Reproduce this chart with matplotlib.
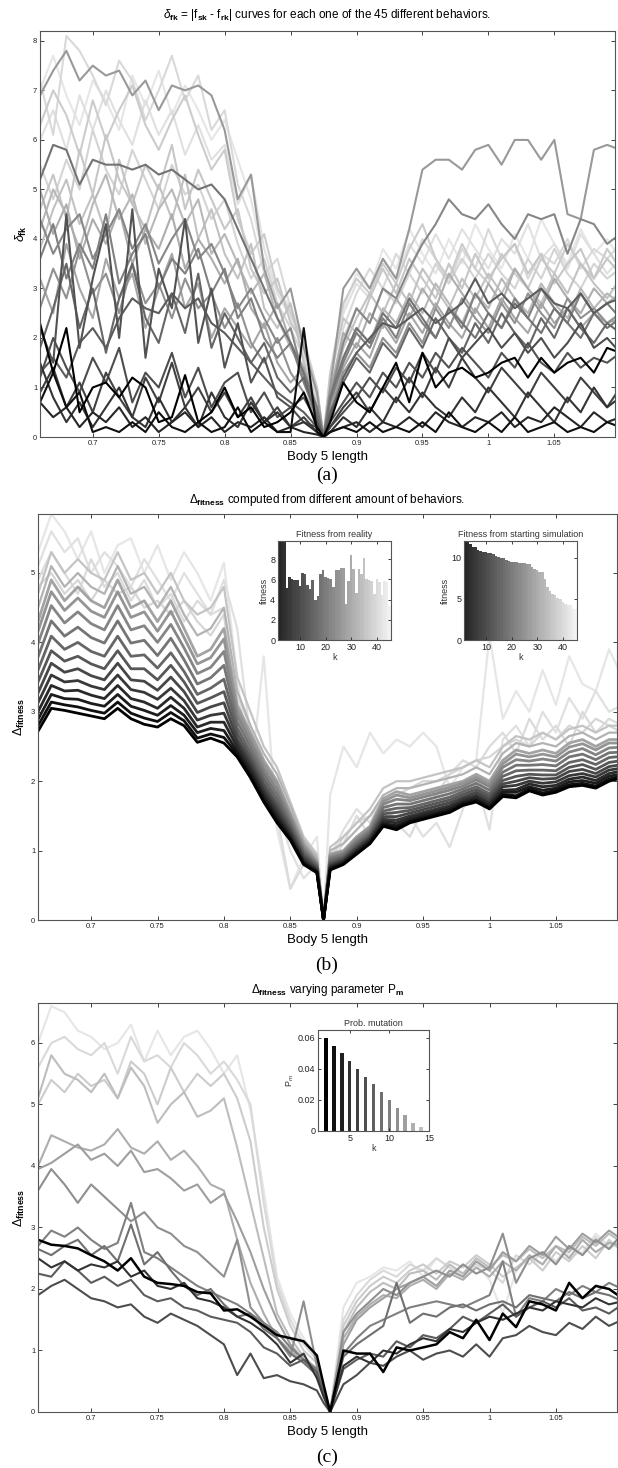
import matplotlib
matplotlib.use("Agg")
import matplotlib.pyplot as plt
import numpy as np

plt.rcParams['font.family'] = ['Liberation Sans', 'DejaVu Sans']
plt.rcParams['mathtext.fontset'] = 'custom'
plt.rcParams['mathtext.rm'] = 'Liberation Sans'
plt.rcParams['mathtext.it'] = 'Liberation Sans:italic'
plt.rcParams['mathtext.bf'] = 'Liberation Sans:bold'

# body 5 length samples (shared by the three panels)
body_len = [0.66, 0.67, 0.68, 0.69, 0.70, 0.71, 0.72, 0.73, 0.74, 0.75,
            0.76, 0.77, 0.78, 0.79, 0.80, 0.81, 0.82, 0.83, 0.84, 0.85,
            0.86, 0.87, 0.875, 0.88, 0.89, 0.90, 0.91, 0.92, 0.93, 0.94,
            0.95, 0.96, 0.97, 0.98, 0.99, 1.00, 1.01, 1.02, 1.03, 1.04,
            1.05, 1.06, 1.07, 1.08, 1.09, 1.10]
body_ticks = [0.7, 0.75, 0.8, 0.85, 0.9, 0.95, 1.0, 1.05]
body_tick_lbl = ['0.7', '0.75', '0.8', '0.85', '0.9', '0.95', '1', '1.05']

# ---- (a) delta_fk curves, light ones first ----
da_l1 = [6.0,6.6,5.8,6.9,6.2,7.0,6.4,5.9,6.8,6.1,6.6,5.7,6.3,5.6,5.9,4.7,5.3,3.8,2.9,2.4,1.7,0.8,0.0,1.1,2.5,3.1,2.8,3.6,3.2,3.9,3.5,4.1,3.6,4.2,3.8,3.4,4.0,3.7,4.3,3.6,3.9,3.4,4.1,3.7,3.3,3.6]
da_l2 = [7.2,6.1,8.1,7.8,7.3,6.7,7.6,7.2,6.4,7.0,7.7,6.8,7.3,6.2,6.6,5.1,4.4,3.3,3.6,2.6,2.0,1.0,0.0,0.8,2.2,2.9,3.4,3.0,3.7,3.3,4.0,3.6,3.1,3.8,3.4,4.2,3.6,3.9,3.2,3.7,3.5,4.0,3.4,3.8,3.6,3.9]
da_l3 = [5.5,4.8,5.6,5.0,6.2,5.4,4.9,5.8,5.2,4.6,5.5,4.9,5.1,4.4,4.8,3.9,3.2,3.6,2.7,2.2,1.6,0.7,0.0,0.9,2.0,2.6,2.3,3.0,2.7,3.3,2.9,3.5,3.1,3.6,3.2,3.7,3.3,3.0,3.6,3.2,3.8,3.3,3.0,3.5,3.2,3.4]
da_l4 = [4.6,5.3,4.4,5.8,4.9,6.1,5.2,4.7,5.5,5.0,5.9,4.6,5.4,4.8,4.2,4.6,3.4,2.9,3.2,2.3,1.9,0.9,0.0,1.2,2.4,2.1,2.8,3.4,2.9,3.6,3.2,2.8,3.5,3.0,3.7,3.2,3.6,3.9,3.3,3.7,3.1,3.5,3.8,3.2,3.6,3.3]
da_l5 = [3.8,4.6,5.2,4.3,4.9,4.1,5.6,4.7,4.2,5.1,4.4,5.3,4.0,4.6,3.7,3.2,3.9,2.6,2.2,2.7,1.5,0.6,0.0,0.7,1.8,2.4,2.9,2.5,3.1,2.7,3.4,3.0,2.6,3.2,2.8,3.3,2.9,3.4,3.0,2.7,3.3,2.9,3.5,3.1,2.8,3.2]
da_l6 = [6.3,7.0,6.5,5.7,6.8,6.0,6.6,7.1,6.3,5.8,6.4,6.9,6.1,5.4,5.8,4.4,3.7,4.1,3.0,2.5,1.9,1.0,0.0,1.3,2.7,3.2,2.9,3.5,3.1,3.8,4.3,3.6,3.2,3.9,3.4,3.1,3.7,3.3,3.0,3.6,3.3,3.9,3.5,3.2,3.8,3.4]
da_l7 = [4.2,5.0,4.5,3.8,4.7,5.3,4.4,4.9,3.9,4.6,5.0,4.3,4.8,3.7,4.1,3.5,2.9,3.3,2.4,1.8,1.3,0.5,0.0,0.8,1.6,2.2,1.9,2.6,2.3,2.9,2.5,3.1,2.7,2.3,2.9,2.6,3.2,2.8,2.5,3.1,2.7,2.4,3.0,2.6,2.9,2.7]
da_l8 = [7.0,7.7,6.9,6.3,7.2,6.8,6.2,7.3,6.7,7.4,6.5,7.1,6.6,6.0,6.4,5.6,4.8,3.5,3.0,2.6,1.9,0.9,0.0,1.0,2.6,3.3,3.0,3.8,3.4,4.2,3.7,3.3,4.0,3.5,4.3,3.8,3.4,4.1,3.6,4.4,3.9,3.5,4.2,3.7,4.0,3.6]
da_m1 = [5.0,4.1,4.7,3.6,4.4,3.9,4.6,3.5,4.2,3.8,4.5,3.4,4.0,3.6,3.1,3.6,2.6,2.2,2.7,1.9,1.4,0.6,0.0,0.9,2.1,1.8,2.5,2.2,2.8,2.4,3.0,2.6,3.3,2.9,2.5,3.1,2.7,3.4,3.0,2.6,3.2,2.8,2.5,3.0,2.7,2.9]
da_m2 = [3.2,2.5,3.9,3.0,2.4,3.6,2.8,3.3,2.2,3.0,3.7,2.6,3.1,2.0,2.6,2.2,1.8,2.3,1.5,1.1,1.4,0.5,0.0,0.6,1.4,1.9,1.6,2.3,1.9,2.5,2.1,2.7,2.3,2.0,2.6,2.2,2.8,2.4,2.1,2.7,2.3,2.6,2.2,2.5,2.3,2.4]
da_m3 = [6.9,7.4,7.8,7.2,7.5,7.3,7.4,6.9,7.2,6.6,7.1,7.0,7.1,6.9,6.2,4.8,5.3,3.4,2.6,3.0,1.8,0.9,0.0,1.0,3.0,3.4,3.0,3.6,3.2,4.2,5.4,5.6,5.6,5.4,5.8,5.9,5.5,6.0,6.0,5.6,6.0,4.5,4.4,5.8,5.9,5.8]
da_m4 = [2.6,3.4,2.8,3.8,2.9,3.3,2.5,3.5,2.7,3.1,2.4,3.2,2.6,2.9,2.2,2.7,1.9,1.5,2.0,1.3,0.9,0.4,0.0,0.5,1.3,1.7,1.4,2.0,1.7,2.3,1.9,2.6,2.2,2.8,2.4,2.1,2.7,2.3,2.9,2.5,2.2,2.8,2.4,2.6,2.3,2.5]
da_m5 = [4.4,3.7,4.2,4.5,3.6,4.1,4.6,3.8,4.3,3.5,4.0,4.4,3.6,3.9,3.3,2.6,3.0,2.4,1.9,2.2,1.2,0.5,0.0,0.8,1.9,2.6,2.3,3.0,2.8,3.4,3.9,4.3,4.8,4.5,4.4,4.7,4.3,4.0,4.5,4.4,4.5,3.7,4.4,4.3,3.9,4.1]
da_m6 = [3.6,4.3,3.2,3.9,3.4,4.5,3.1,3.7,4.1,3.0,3.6,3.3,3.8,2.9,3.4,2.4,2.8,2.0,1.6,1.9,1.1,0.4,0.0,0.7,1.5,2.1,1.8,2.4,2.0,2.7,2.3,2.0,2.6,2.2,2.9,2.5,2.2,2.8,2.4,3.0,2.6,2.3,2.9,2.5,2.7,2.4]
da_d1 = [5.2,5.9,5.8,5.1,5.6,5.5,5.5,5.4,5.5,5.3,5.4,5.2,5.0,5.1,4.8,4.2,3.6,3.0,2.4,1.9,1.3,0.6,0.0,0.8,1.6,2.2,1.9,2.5,2.2,2.8,2.4,2.0,2.6,2.3,2.0,2.5,2.2,2.7,2.4,2.1,2.6,2.3,2.0,2.5,2.2,2.4]
da_d2 = [1.8,2.6,3.5,2.2,3.0,1.7,2.8,3.5,2.4,1.9,2.9,2.1,3.3,1.8,2.5,2.0,1.5,1.9,1.2,0.9,1.2,0.4,0.0,0.5,1.1,1.6,1.3,1.9,1.6,2.2,1.8,2.4,2.0,1.7,2.3,1.9,2.5,2.1,1.8,2.4,2.0,2.6,2.2,1.9,2.3,2.1]
da_d3 = [1.3,1.6,1.2,1.9,2.2,1.8,2.4,2.8,2.6,2.5,2.9,2.6,2.8,2.3,2.1,1.8,1.5,1.2,0.9,0.7,0.5,0.2,0.0,0.4,1.2,1.7,2.0,2.3,2.2,2.4,2.6,2.3,2.5,2.7,3.2,2.7,2.9,2.6,2.8,3.0,2.7,2.6,2.9,2.5,2.7,2.8]
da_d4 = [2.2,1.5,4.5,1.8,3.2,4.3,2.0,4.6,1.6,3.4,2.6,4.4,1.9,3.0,1.4,2.3,1.1,1.6,0.8,0.6,0.8,0.3,0.0,0.3,0.7,1.1,0.8,1.3,1.0,1.5,1.2,1.7,1.4,1.8,1.5,1.2,1.7,1.4,1.9,1.5,1.3,1.7,1.4,1.6,1.5,1.7]
da_d8 = [1.2,2.0,1.4,0.9,1.6,1.1,1.8,0.7,1.3,1.0,1.7,0.8,1.4,0.6,1.1,1.3,0.5,0.9,0.4,0.6,0.3,0.2,0.0,0.2,0.5,0.8,1.2,0.9,1.4,1.1,1.7,1.3,2.0,1.6,1.9,2.2,1.8,2.1,1.7,2.0,1.6,1.9,2.3,1.8,2.0,1.7]
da_d5 = [0.9,1.4,0.6,1.1,0.5,1.3,0.8,0.4,1.2,0.7,1.5,0.6,1.0,0.5,0.9,0.4,0.8,0.3,0.6,0.2,0.4,0.1,0.0,0.2,0.6,0.9,0.5,1.0,0.7,1.2,0.8,1.4,1.0,1.6,1.2,0.9,1.4,1.1,0.8,1.3,1.0,0.7,1.2,0.9,0.6,1.0]
da_d7 = [1.5,0.8,0.3,0.7,0.2,0.6,1.0,0.4,0.2,0.8,0.3,0.6,0.2,0.9,0.4,0.2,0.7,0.3,0.5,0.2,0.3,0.1,0.0,0.1,0.4,0.2,0.6,0.3,0.8,0.5,0.9,0.6,0.4,0.8,0.5,1.0,0.7,0.4,0.9,0.6,0.3,0.8,0.5,1.0,0.6,0.8]
da_d6 = [0.7,0.4,0.6,0.2,0.5,0.3,0.6,0.2,0.4,0.1,0.3,0.5,0.2,0.4,0.1,0.3,0.2,0.4,0.1,0.2,0.1,0.05,0.0,0.1,0.2,0.3,0.1,0.3,0.2,0.4,0.2,0.5,0.3,0.2,0.4,0.3,0.5,0.2,0.4,0.3,0.6,0.4,0.2,0.5,0.3,0.4]
da_k2 = [0.7,1.3,0.6,0.9,0.1,0.2,0.1,0.3,0.1,0.5,0.2,0.1,0.3,0.1,0.2,0.6,0.1,0.3,0.1,0.1,2.2,0.1,0.0,0.1,0.2,0.1,0.3,0.1,0.2,0.1,0.3,0.1,0.5,0.2,0.1,0.3,0.1,0.4,0.1,0.2,0.3,0.1,0.2,0.1,0.3,0.2]
da_k1 = [2.3,1.3,2.2,0.5,1.0,1.1,0.8,1.2,1.0,0.3,0.4,1.25,0.3,0.5,1.0,0.4,0.6,0.2,0.3,0.5,0.9,0.2,0.0,0.3,1.1,0.7,0.5,1.0,1.5,0.7,1.7,1.0,1.3,1.4,1.2,1.3,1.5,1.6,1.2,1.6,1.3,1.5,1.6,1.3,1.8,1.7]

# ---- (b) Delta_fitness for growing number of behaviours ----
db_b = [2.72,3.05,3.02,2.98,2.94,2.90,3.05,2.90,2.82,2.78,2.90,2.80,2.56,2.62,2.55,2.35,2.05,1.70,1.40,1.15,0.80,0.68,0.00,0.72,0.80,0.95,1.10,1.35,1.30,1.40,1.45,1.50,1.55,1.65,1.70,1.60,1.78,1.76,1.86,1.80,1.84,1.92,1.94,1.90,2.00,2.05]
db_1 = [2.80,3.14,3.10,3.07,3.02,2.98,3.14,2.98,2.91,2.86,2.99,2.87,2.62,2.68,2.63,2.39,2.08,1.73,1.43,1.17,0.82,0.69,0.00,0.73,0.81,0.96,1.11,1.37,1.33,1.42,1.47,1.52,1.57,1.67,1.72,1.62,1.81,1.79,1.89,1.83,1.87,1.95,1.97,1.93,2.03,2.08]
db_2 = [2.89,3.25,3.19,3.18,3.12,3.08,3.25,3.08,3.02,2.95,3.09,2.95,2.70,2.76,2.73,2.43,2.12,1.77,1.47,1.19,0.83,0.70,0.00,0.75,0.82,0.98,1.13,1.39,1.36,1.44,1.49,1.54,1.59,1.69,1.74,1.64,1.84,1.84,1.92,1.87,1.90,1.99,2.01,1.97,2.07,2.11]
db_3 = [3.00,3.38,3.30,3.31,3.24,3.19,3.38,3.19,3.14,3.05,3.21,3.05,2.78,2.85,2.85,2.49,2.17,1.81,1.51,1.22,0.85,0.71,0.00,0.76,0.84,1.00,1.15,1.42,1.40,1.47,1.52,1.57,1.62,1.71,1.77,1.67,1.87,1.88,1.96,1.92,1.94,2.03,2.06,2.01,2.11,2.15]
db_4 = [3.13,3.53,3.43,3.45,3.37,3.32,3.53,3.32,3.28,3.18,3.34,3.16,2.88,2.95,2.98,2.55,2.22,1.86,1.56,1.25,0.88,0.72,0.00,0.78,0.85,1.02,1.17,1.45,1.44,1.50,1.55,1.60,1.65,1.74,1.80,1.70,1.92,1.94,2.00,1.97,1.99,2.08,2.11,2.06,2.16,2.19]
db_5 = [3.27,3.70,3.57,3.62,3.52,3.46,3.70,3.46,3.44,3.31,3.50,3.29,2.99,3.07,3.13,2.61,2.28,1.91,1.61,1.29,0.91,0.74,0.00,0.80,0.87,1.04,1.19,1.49,1.49,1.54,1.59,1.64,1.69,1.77,1.84,1.74,1.96,2.00,2.05,2.03,2.04,2.14,2.17,2.11,2.21,2.24]
db_6 = [3.43,3.88,3.73,3.80,3.69,3.62,3.88,3.62,3.62,3.46,3.67,3.43,3.12,3.20,3.29,2.69,2.34,1.97,1.67,1.33,0.94,0.76,0.00,0.82,0.89,1.06,1.21,1.53,1.55,1.58,1.63,1.68,1.73,1.81,1.88,1.78,2.01,2.07,2.10,2.09,2.09,2.20,2.24,2.17,2.27,2.30]
db_7 = [3.60,4.09,3.90,4.00,3.87,3.80,4.09,3.80,3.82,3.63,3.85,3.58,3.25,3.34,3.47,2.77,2.41,2.04,1.74,1.37,0.97,0.78,0.00,0.85,0.91,1.09,1.24,1.57,1.61,1.62,1.67,1.72,1.77,1.85,1.92,1.82,2.07,2.15,2.16,2.16,2.15,2.27,2.31,2.24,2.34,2.36]
db_8 = [3.79,4.31,4.09,4.22,4.07,3.99,4.31,3.99,4.03,3.81,4.06,3.75,3.40,3.49,3.67,2.86,2.49,2.11,1.81,1.42,1.00,0.80,0.00,0.88,0.94,1.12,1.27,1.62,1.67,1.67,1.72,1.77,1.82,1.89,1.97,1.87,2.13,2.23,2.23,2.24,2.22,2.35,2.39,2.31,2.41,2.42]
db_9 = [3.98,4.53,4.28,4.44,4.27,4.18,4.53,4.18,4.24,4.00,4.26,3.92,3.55,3.64,3.87,2.95,2.57,2.18,1.88,1.47,1.04,0.82,0.00,0.90,0.96,1.15,1.30,1.67,1.74,1.72,1.77,1.82,1.87,1.93,2.02,1.92,2.20,2.31,2.29,2.32,2.29,2.42,2.47,2.38,2.48,2.49]
db_10 = [4.16,4.73,4.46,4.64,4.45,4.36,4.73,4.36,4.44,4.16,4.45,4.07,3.69,3.78,4.05,3.03,2.64,2.25,1.95,1.51,1.07,0.83,0.00,0.93,0.98,1.18,1.33,1.71,1.80,1.76,1.81,1.86,1.91,1.97,2.06,1.96,2.25,2.39,2.35,2.39,2.35,2.49,2.54,2.45,2.55,2.55]
db_t = [4.30,4.90,4.60,4.80,4.60,4.50,4.90,4.50,4.60,4.30,4.60,4.20,3.80,3.90,4.20,3.10,2.70,2.30,2.00,1.55,1.10,0.85,0.00,0.95,1.00,1.20,1.35,1.75,1.85,1.80,1.85,1.90,1.95,2.00,2.10,2.00,2.30,2.45,2.40,2.45,2.40,2.55,2.60,2.50,2.60,2.60]
db_ml1 = [4.5,5.1,4.8,5.0,4.8,4.7,5.1,4.7,4.8,4.5,4.8,4.4,4.1,4.2,4.5,3.3,2.8,2.4,2.1,1.65,1.15,0.9,0.0,1.0,1.1,1.3,1.5,1.8,1.9,1.9,1.95,2.0,2.05,2.1,2.2,2.1,2.4,2.55,2.5,2.55,2.5,2.65,2.7,2.6,2.7,2.7]
db_ml2 = [4.7,5.3,5.0,5.2,5.0,4.9,5.3,4.9,5.0,4.7,5.0,4.6,4.4,4.5,4.8,3.5,3.0,2.5,2.2,1.7,1.2,0.95,0.0,1.05,1.2,1.4,1.6,1.9,2.0,2.0,2.05,2.1,2.15,2.2,2.3,2.2,2.5,2.65,2.6,2.7,2.6,2.75,2.8,2.7,2.8,2.8]
db_lt1 = [5.3,5.85,5.6,5.2,5.6,5.0,5.4,5.5,5.0,5.4,4.9,5.3,5.0,4.6,5.15,3.5,2.0,3.8,1.3,0.45,0.9,1.2,0.0,1.8,2.5,2.2,2.7,2.4,2.6,2.5,2.7,2.5,1.9,2.2,2.3,4.1,2.9,3.3,3.0,3.6,3.1,3.8,3.4,3.3,3.9,3.5]
db_lt2 = [5.1,5.6,5.3,5.5,5.0,5.3,5.1,4.8,5.2,4.9,4.6,5.0,4.7,4.4,4.9,4.2,2.6,2.2,1.6,1.0,0.6,0.8,0.0,0.9,1.3,1.6,1.4,1.8,1.3,1.5,1.2,1.4,1.05,1.6,2.0,1.3,2.6,2.8,2.5,3.0,2.7,3.2,2.9,3.3,3.0,3.1]
db_lt3 = [4.9,5.3,5.0,4.7,5.2,4.8,5.0,4.6,4.9,4.5,4.7,4.3,4.6,4.4,4.5,3.2,2.8,2.3,1.5,0.45,0.8,0.7,0.0,0.8,1.1,1.5,1.2,1.7,1.4,1.2,1.6,1.8,2.1,2.3,2.2,2.5,2.7,2.4,2.9,2.6,2.8,2.5,3.0,2.7,2.9,2.8]
db_lt4 = [4.8,5.0,4.7,4.9,4.6,4.9,4.7,4.8,4.5,4.6,4.4,4.6,4.3,4.1,4.4,3.0,2.5,2.0,1.7,1.2,0.9,0.75,0.0,0.85,1.2,1.4,1.5,1.7,1.8,1.9,2.0,2.0,2.1,2.2,2.3,2.35,2.5,2.6,2.5,2.7,2.6,2.8,2.7,2.9,2.8,2.7]

# insets of (b): fitness per behaviour k
k_behav = list(range(2, 46))
fit_reality = [11.0,11.0,11.0,5.1,6.2,6.0,5.9,5.9,5.3,6.6,6.5,5.4,5.0,5.9,4.0,4.4,6.5,6.9,6.2,6.1,
               6.0,5.2,6.9,6.9,7.1,7.1,3.6,5.8,8.4,7.0,4.7,7.0,6.5,8.1,6.0,5.9,5.8,4.6,6.0,5.7,
               4.5,5.8,5.7,3.4]
fit_sim = [11.9,11.9,11.6,11.3,11.3,10.9,10.8,10.7,10.7,10.6,10.5,10.4,10.2,10.1,10.0,9.9,9.7,9.6,9.5,9.4,
           9.4,9.35,9.3,9.3,9.2,9.2,8.9,8.6,8.5,8.3,8.2,7.4,6.4,6.0,5.6,5.4,5.1,5.0,4.6,4.4,
           4.3,4.2,3.8,3.7]

# ---- (c) Delta_fitness for each mutation probability ----
dc_0 = [2.80,2.72,2.70,2.66,2.55,2.45,2.30,2.50,2.20,2.10,2.08,2.05,1.95,1.93,1.65,1.67,1.55,1.40,1.25,1.20,1.15,0.92,0.45,0.0,1.00,0.95,0.95,0.65,1.05,1.00,1.05,1.10,1.30,1.20,1.50,1.17,1.60,1.38,1.80,1.75,1.65,2.10,1.85,2.05,2.00,1.85]
dc_1 = [2.50,2.35,2.45,2.30,2.40,2.35,2.45,2.20,2.30,2.05,2.00,2.10,1.85,1.80,1.70,1.55,1.45,1.30,1.10,0.80,0.95,0.55,0.25,0.0,0.75,0.90,0.80,1.00,0.95,1.10,1.20,1.15,1.35,1.30,1.45,1.55,1.50,1.60,1.70,1.65,1.80,1.75,1.70,1.85,1.75,1.80]
dc_2 = [1.90,2.05,2.15,2.00,1.85,1.80,1.70,1.75,1.55,1.45,1.60,1.50,1.40,1.25,1.10,0.60,0.95,0.55,0.60,0.50,0.45,0.35,0.15,0.0,0.45,0.60,0.80,0.75,0.90,1.00,0.85,0.95,1.00,0.90,1.10,0.90,1.20,1.25,1.40,1.30,1.25,1.45,1.35,1.55,1.40,1.50]
dc_3 = [2.25,2.20,2.45,2.30,2.10,2.20,2.05,2.15,1.90,1.80,1.85,1.70,1.65,1.55,1.50,1.45,1.30,1.05,0.95,0.75,0.85,0.65,0.30,0.0,0.70,0.85,0.95,0.90,1.15,1.05,1.25,1.20,1.35,1.55,1.45,1.60,1.75,1.55,1.70,1.80,1.70,1.85,1.65,1.70,1.60,1.75]
dc_4 = [2.65,2.55,2.70,2.80,2.55,2.70,2.45,3.05,2.40,2.60,2.30,2.05,1.90,2.00,1.75,1.55,1.60,1.35,1.20,0.95,0.80,0.60,0.30,0.0,0.90,1.10,1.25,1.40,2.10,1.45,1.60,1.55,1.70,1.75,1.65,1.75,1.80,1.70,1.90,1.85,1.80,1.95,1.85,1.95,1.90,1.80]
dc_5 = [2.70,2.95,2.85,3.00,2.80,2.65,2.75,3.40,2.60,2.50,2.35,2.20,2.05,1.95,1.85,1.75,1.60,1.45,1.30,1.05,0.85,0.70,0.35,0.0,0.95,1.20,1.40,1.50,1.60,1.70,1.75,1.80,1.75,1.70,1.80,1.90,2.45,1.55,1.85,1.80,2.00,1.90,2.05,1.95,2.10,2.00]
dc_6 = [3.60,3.95,3.70,3.40,3.70,3.50,3.30,3.10,3.25,3.00,2.90,2.70,2.60,2.40,2.20,2.80,1.70,1.45,1.20,0.90,1.80,0.75,0.35,0.0,1.30,1.60,1.80,2.00,1.90,2.10,2.20,2.30,2.20,2.40,2.25,2.35,2.90,2.10,2.50,2.60,2.40,2.70,2.55,2.80,2.65,2.90]
dc_7 = [3.95,4.05,4.20,4.35,4.10,4.20,4.00,4.25,3.90,3.95,3.80,3.60,3.70,3.40,3.55,3.10,2.60,2.00,1.50,1.10,0.85,0.70,0.30,0.0,1.10,1.50,1.70,1.85,2.00,2.10,2.20,2.05,2.30,2.20,2.45,2.30,2.60,2.45,2.70,2.55,2.85,2.65,2.90,2.75,2.95,2.80]
dc_8 = [4.00,4.50,4.40,4.30,4.25,4.35,4.60,4.30,4.20,4.40,4.10,4.25,4.00,3.70,3.60,2.80,2.10,1.60,1.20,1.00,0.80,0.65,0.30,0.0,1.20,1.55,1.75,1.90,1.85,2.05,2.15,2.00,2.25,2.15,2.35,2.20,2.45,2.30,2.55,2.40,2.70,2.50,2.80,2.60,2.75,2.70]
dc_9 = [5.10,5.80,5.50,5.40,5.20,5.50,5.10,5.60,5.30,4.70,5.00,5.20,4.80,4.90,5.10,4.30,3.40,2.50,1.60,1.20,0.90,0.70,0.30,0.0,1.30,1.70,1.95,2.10,2.00,2.25,2.30,2.15,2.40,2.25,2.50,2.35,2.55,2.45,2.65,2.50,2.70,2.60,2.85,2.70,2.90,2.75]
dc_10 = [5.00,5.40,5.20,5.50,5.30,5.40,5.10,5.70,5.50,5.00,5.60,5.20,5.50,5.30,5.50,5.10,4.40,3.00,2.00,1.40,1.00,0.80,0.35,0.0,1.40,1.80,2.05,2.20,2.10,2.30,2.40,2.25,2.45,2.35,2.55,2.40,2.20,2.35,2.50,2.30,2.60,2.45,2.70,2.50,2.80,2.60]
dc_11 = [5.60,6.00,6.10,5.90,5.80,6.00,5.50,6.10,5.70,5.80,5.60,6.00,5.80,5.50,5.70,5.40,5.00,3.40,2.10,1.50,1.10,0.85,0.40,0.0,1.50,1.90,2.15,2.30,2.20,2.40,2.30,2.50,2.35,2.20,2.40,2.30,2.10,2.55,2.40,2.60,2.45,2.70,2.55,2.85,2.65,2.80]
dc_12 = [6.00,6.60,6.50,6.20,6.10,5.90,6.00,6.30,5.70,6.20,5.80,6.10,6.20,5.90,5.50,5.80,4.90,3.60,2.20,1.60,1.20,0.90,0.40,0.0,1.70,2.10,2.20,2.35,2.30,2.45,2.20,2.50,2.35,2.25,2.40,2.15,1.60,2.30,2.50,2.40,2.70,2.55,2.60,2.90,2.70,2.85]

# inset of (c): mutation probability
pm_k = [2, 3, 4, 5, 6, 7, 8, 9, 10, 11, 12, 13, 14]
pm_val = [0.06, 0.055, 0.05, 0.045, 0.04, 0.035, 0.03, 0.025, 0.02, 0.015, 0.01, 0.005, 0.0025]

W, H = 618, 1468


def px_axes(fig, left, top, right, bottom):
    return fig.add_axes([left / W, 1 - bottom / H, (right - left) / W, (bottom - top) / H])


def matlab_look(ax, size):
    ax.tick_params(direction='in', top=True, right=True, length=3, width=0.6,
                   labelsize=size, pad=2, colors='#222222')
    for sp in ax.spines.values():
        sp.set_linewidth(0.8)
        sp.set_color('#555555')


def main_axes(ax, ytop, yticks):
    ax.set_xlim(0.66, 1.096)
    ax.set_ylim(0, ytop)
    ax.set_xticks(body_ticks)
    ax.set_xticklabels(body_tick_lbl)
    ax.set_yticks(yticks)
    matlab_look(ax, 5.5)
    ax.set_xlabel('Body 5 length', fontsize=9.5, labelpad=3)


fig = plt.figure(figsize=(W / 100, H / 100), dpi=100)

# ---------------- (a) ----------------
ax_a = px_axes(fig, 40, 31, 615, 437)
curves_a = [da_l8, da_l1, da_l2, da_l3, da_l6, da_l4, da_l5, da_l7, da_m1, da_m2,
            da_m3, da_m4, da_m5, da_m6, da_d1, da_d2, da_d3, da_d4, da_d8, da_d5,
            da_d7, da_d6, da_k2, da_k1]
grays_a = [0.9, 0.88, 0.85, 0.83, 0.8, 0.78, 0.76, 0.72, 0.68, 0.65,
           0.6, 0.57, 0.53, 0.5, 0.45, 0.4, 0.36, 0.32, 0.3, 0.25,
           0.2, 0.15, 0.06, 0.0]
for ys, g in zip(curves_a, grays_a):
    ax_a.plot(body_len, ys, color=str(g), lw=1.5)
main_axes(ax_a, 8.2, range(0, 9))
ax_a.set_ylabel(r'$\delta_{\mathbf{fk}}$', fontsize=9, labelpad=3)
fig.text(327 / W, 1 - 15 / H,
         r'$\delta_{\mathbf{fk}}$ = |f$_{\mathbf{sk}}$ - f$_{\mathbf{rk}}$| curves for each one of the 45 different behaviors.',
         ha='center', va='center', fontsize=8.5)
fig.text(327 / W, 1 - 475 / H, '(a)', ha='center', va='center',
         fontsize=14, family='Liberation Serif')

# ---------------- (b) ----------------
ax_b = px_axes(fig, 38, 514, 617, 920)
light_b = [db_lt1, db_lt2, db_lt3, db_lt4, db_ml2, db_ml1]
light_b_gray = [0.9, 0.88, 0.86, 0.84, 0.77, 0.7]
for ys, g in zip(light_b, light_b_gray):
    ax_b.plot(body_len, ys, color=str(g), lw=1.6)
band_b = [db_t, db_10, db_9, db_8, db_7, db_6, db_5, db_4, db_3, db_2, db_1, db_b]
band_gray = [0.64, 0.58, 0.52, 0.46, 0.4, 0.34, 0.28, 0.22, 0.16, 0.11, 0.06, 0.0]
for ys, g in zip(band_b, band_gray):
    ax_b.plot(body_len, ys, color=str(g), lw=2.0)
main_axes(ax_b, 5.85, range(0, 6))
ax_b.set_ylabel(r'$\Delta_{\mathbf{fitness}}$', fontsize=9, labelpad=3)
fig.text(327 / W, 1 - 500 / H, r'$\Delta_{\mathbf{fitness}}$ computed from different amount of behaviors.',
         ha='center', va='center', fontsize=8.5)
fig.text(327 / W, 1 - 965 / H, '(b)', ha='center', va='center',
         fontsize=14, family='Liberation Serif')

bar_cols = [str(v) for v in np.linspace(0.15, 0.95, len(k_behav))]
for left, vals, ttl, ytop, yt in [(278, fit_reality, 'Fitness from reality', 9.8, [0, 2, 4, 6, 8]),
                                  (464, fit_sim, 'Fitness from starting simulation', 12, [0, 5, 10])]:
    ins = px_axes(fig, left, 541, left + 113, 640)
    ins.bar(k_behav, vals, width=1.0, color=bar_cols, edgecolor='none')
    ins.set_xlim(1.5, 45.5)
    ins.set_ylim(0, ytop)
    ins.set_xticks([10, 20, 30, 40])
    ins.set_yticks(yt)
    matlab_look(ins, 6.5)
    ins.tick_params(length=2)
    ins.set_title(ttl, fontsize=6.5, pad=3, color='#333333')
    ins.set_xlabel('k', fontsize=6.5, labelpad=1, color='#333333')
    ins.set_ylabel('fitness', fontsize=6.5, labelpad=1, color='#333333')

# ---------------- (c) ----------------
ax_c = px_axes(fig, 38, 1003, 617, 1412)
curves_c = [dc_12, dc_11, dc_10, dc_9, dc_8, dc_7, dc_6, dc_5, dc_4, dc_3, dc_2, dc_1, dc_0]
grays_c = [0.9, 0.85, 0.8, 0.74, 0.68, 0.62, 0.56, 0.5, 0.44, 0.36, 0.3, 0.2, 0.0]
for ys, g in zip(curves_c, grays_c):
    ax_c.plot(body_len, ys, color=str(g), lw=1.8 if g == 0.0 else 1.5)
main_axes(ax_c, 6.65, range(0, 7))
ax_c.set_ylabel(r'$\Delta_{\mathbf{fitness}}$', fontsize=9, labelpad=3)
fig.text(327 / W, 1 - 990 / H, r'$\Delta_{\mathbf{fitness}}$ varying parameter P$_{\mathbf{m}}$',
         ha='center', va='center', fontsize=8.5)
fig.text(327 / W, 1 - 1457 / H, '(c)', ha='center', va='center',
         fontsize=14, family='Liberation Serif')

ins_c = px_axes(fig, 318, 1030, 429, 1131)
pm_cols = [str(v) for v in np.linspace(0.0, 0.75, len(pm_k))]
ins_c.bar(pm_k, pm_val, width=0.45, color=pm_cols, edgecolor='none')
ins_c.set_xlim(1, 15)
ins_c.set_ylim(0, 0.065)
ins_c.set_xticks([5, 10, 15])
ins_c.set_yticks([0, 0.02, 0.04, 0.06])
ins_c.set_yticklabels(['0', '0.02', '0.04', '0.06'])
matlab_look(ins_c, 6.5)
ins_c.tick_params(length=2)
ins_c.set_title('Prob. mutation', fontsize=6.5, pad=3, color='#333333')
ins_c.set_xlabel('k', fontsize=6.5, labelpad=1, color='#333333')
ins_c.set_ylabel('P$_m$', fontsize=6.5, labelpad=1, color='#333333')

fig.savefig('out.png', dpi=100)
